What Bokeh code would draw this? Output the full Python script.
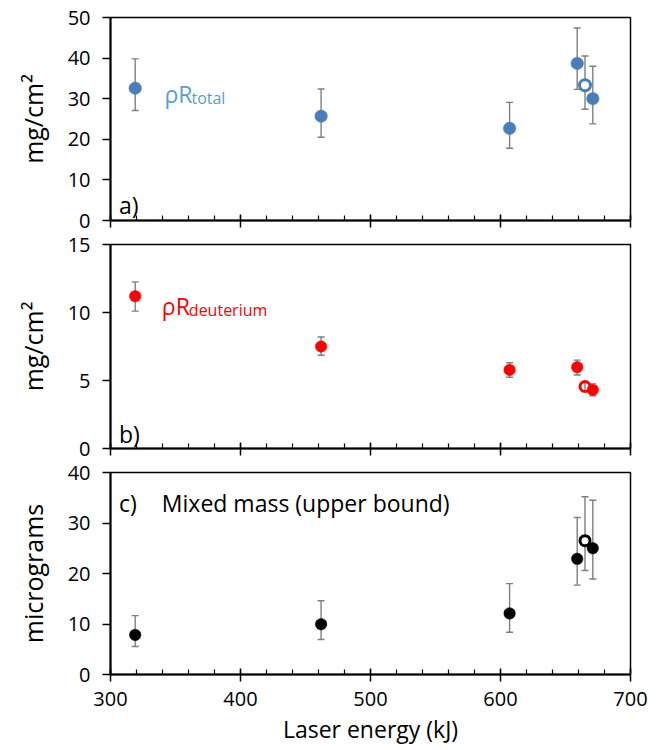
from bokeh.plotting import figure
from bokeh.layouts import column
from bokeh.models import Range1d, FixedTicker, ColumnDataSource, Whisker, TeeHead, Label, CustomJSTickFormatter
from bokeh.embed import file_html
from bokeh.resources import INLINE

# ---- data ----
energy = [319, 462, 607, 659, 665, 671]          # laser energy, kJ
is_open = [False, False, False, False, True, False]

rho_total = [32.6, 25.7, 22.7, 38.7, 33.3, 30.0]
rho_total_lo = [27.1, 20.5, 17.8, 32.3, 27.4, 23.8]
rho_total_hi = [39.8, 32.4, 29.1, 47.4, 40.5, 38.0]

rho_d = [11.2, 7.5, 5.78, 5.98, 4.56, 4.31]
rho_d_lo = [10.1, 6.86, 5.24, 5.4, 4.2, 3.87]
rho_d_hi = [12.25, 8.2, 6.3, 6.5, 4.85, 4.75]

mass = [7.84, 9.95, 12.1, 22.9, 26.5, 25.0]
mass_lo = [5.53, 6.92, 8.37, 17.7, 20.6, 18.9]
mass_hi = [11.66, 14.6, 18.0, 31.1, 35.2, 34.5]

x_ticks = [300, 400, 500, 600, 700]
x_minor = list(range(300, 701, 20))
ticks_a = [0, 10, 20, 30, 40, 50]
ticks_b = [0, 5, 10, 15]
ticks_c = [0, 10, 20, 30, 40]

FONT = "Open Sans"
BAR = "#7f7f7f"


def make_fig(height, ymax, yticks, ylabel, top, bottom, show_x):
    p = figure(width=664, height=height, x_range=Range1d(300, 700), y_range=Range1d(0, ymax),
               output_backend="svg", toolbar_location=None,
               min_border_left=110, min_border_right=34, min_border_top=top, min_border_bottom=bottom)
    p.xgrid.visible = False
    p.ygrid.visible = False
    p.outline_line_color = "black"
    p.outline_line_width = 1.5
    p.outline_line_alpha = 1.0
    p.background_fill_color = "white"
    p.border_fill_color = "white"

    xa = p.xaxis[0]
    xa.ticker = FixedTicker(ticks=x_ticks, minor_ticks=x_minor)
    xa.axis_line_width = 2
    xa.axis_line_color = "black"
    xa.major_tick_line_color = "black"
    xa.major_tick_line_width = 1.5
    xa.major_tick_in = 6
    xa.major_tick_out = 7
    xa.minor_tick_line_color = "black"
    xa.minor_tick_line_width = 1.2
    xa.minor_tick_in = 5
    xa.minor_tick_out = 0
    if show_x:
        xa.major_label_text_font = FONT
        xa.major_label_text_font_size = "20px"
        xa.major_label_text_color = "black"
        xa.major_label_standoff = 10
        xa.axis_label = "Laser energy (kJ)"
        xa.axis_label_text_font = FONT
        xa.axis_label_text_font_size = "23px"
        xa.axis_label_text_font_style = "normal"
        xa.axis_label_text_color = "black"
        xa.axis_label_standoff = 4
    else:
        xa.formatter = CustomJSTickFormatter(code="return '';")
        xa.major_label_text_font_size = "2px"
        xa.major_label_standoff = 0

    ya = p.yaxis[0]
    ya.ticker = FixedTicker(ticks=yticks, minor_ticks=[])
    ya.axis_line_width = 2
    ya.axis_line_color = "black"
    ya.major_tick_line_color = "black"
    ya.major_tick_line_width = 1.5
    ya.major_tick_in = 0
    ya.major_tick_out = 8
    ya.major_label_text_font = FONT
    ya.major_label_text_font_size = "20px"
    ya.major_label_text_color = "black"
    ya.major_label_standoff = 12
    ya.axis_label = ylabel
    ya.axis_label_text_font = FONT
    ya.axis_label_text_font_size = "25px"
    ya.axis_label_text_font_style = "normal"
    ya.axis_label_text_color = "black"
    ya.axis_label_standoff = 15
    return p


def add_series(p, yv, lo, hi, color, size, open_fill):
    src_all = ColumnDataSource(dict(x=energy, y=yv, lo=lo, hi=hi))
    p.add_layout(Whisker(base="x", upper="hi", lower="lo", source=src_all, dimension="height",
                         line_color=BAR, line_width=1.4,
                         upper_head=TeeHead(size=7, line_color=BAR, line_width=1.4),
                         lower_head=TeeHead(size=7, line_color=BAR, line_width=1.4)))
    xs_f = [x for x, o in zip(energy, is_open) if not o]
    ys_f = [y for y, o in zip(yv, is_open) if not o]
    xs_o = [x for x, o in zip(energy, is_open) if o]
    ys_o = [y for y, o in zip(yv, is_open) if o]
    p.scatter(xs_f, ys_f, size=size, fill_color=color, line_color=color, line_width=0.5)
    p.scatter(xs_o, ys_o, size=size - 1.5, fill_color=open_fill, line_color=color, line_width=3)


def text(p, x, y, s, color, size, xoff=0, yoff=0):
    p.add_layout(Label(x=x, y=y, text=s, text_font=FONT, text_font_size=size, text_color=color,
                       x_offset=xoff, y_offset=yoff, text_baseline="alphabetic"))


# panel a
pa = make_fig(232, 50, ticks_a, "mg/cm²", 17, 12, False)
add_series(pa, rho_total, rho_total_lo, rho_total_hi, "#4a7ebb", 12.5, "white")
text(pa, 341.5, 31.2, "ρR", "#5b9bd5", "23px")
text(pa, 341.5, 31.2, "total", "#5b9bd5", "16px", xoff=27, yoff=-4)
text(pa, 306.5, 3.7, "a)", "black", "23px")

# panel b
pb = make_fig(228, 15, ticks_b, "mg/cm²", 12, 12, False)
add_series(pb, rho_d, rho_d_lo, rho_d_hi, "#ff0000", 11.5, None)
text(pb, 339.5, 10.46, "ρR", "#ff0000", "23px")
text(pb, 339.5, 10.46, "deuterium", "#ff0000", "16px", xoff=27, yoff=-4)
text(pb, 306.5, 1.1, "b)", "black", "23px")

# panel c
pc = make_fig(290, 40, ticks_c, "micrograms", 12, 76, True)
add_series(pc, mass, mass_lo, mass_hi, "black", 11.5, "white")
text(pc, 306.5, 34.05, "c)", "black", "23px")
text(pc, 339.5, 34.05, "Mixed mass (upper bound)", "black", "23px")

layout = column(pa, pb, pc)
open("out.html", "w").write(file_html(layout, INLINE))
